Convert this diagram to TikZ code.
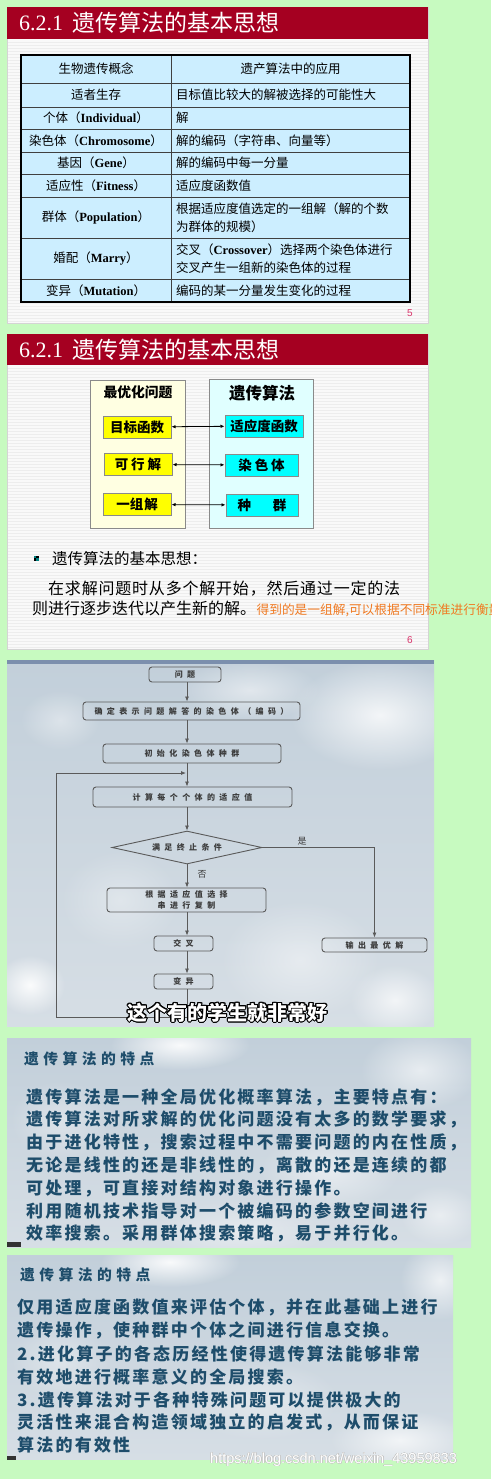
\documentclass[tikz,border=0pt]{standalone}
\usepackage{fontspec}
\usepackage{tikz}
\usepackage{contour}
\usetikzlibrary{arrows.meta,positioning,shapes.geometric,fadings}
\setmainfont{Liberation Serif}
\setsansfont{Liberation Sans}
\newfontfamily\cjk{Noto Sans CJK SC}
\newfontfamily\cjkbody[LetterSpace=5]{Noto Sans CJK SC}
\newfontfamily\flowfont[LetterSpace=55]{Noto Sans CJK SC}
\newfontfamily\calli[LetterSpace=13]{Noto Sans CJK SC}
\newfontfamily\callihead[LetterSpace=30]{Noto Sans CJK SC}
\definecolor{pagegreen}{HTML}{C7FAC0}
\definecolor{titlered}{HTML}{A50021}
\definecolor{slidewhite}{HTML}{F9F9F9}
\definecolor{stripe}{HTML}{EDEDED}
\definecolor{slideedge}{HTML}{D4D4D4}
\definecolor{cellblue}{HTML}{CCEEFF}
\definecolor{paleyellow}{HTML}{FFFFE2}
\definecolor{palecyan}{HTML}{E0FFFF}
\definecolor{boxyellow}{HTML}{FFFF00}
\definecolor{boxcyan}{HTML}{00FFFF}
\definecolor{boxedge}{HTML}{8A8A8A}
\definecolor{pagenum}{HTML}{D9336A}
\definecolor{noteorange}{HTML}{F07A22}
\definecolor{mistblue}{HTML}{C2CFDA}
\definecolor{mistlow}{HTML}{D6DEE5}
\definecolor{stripblue}{HTML}{7B8FAD}
\definecolor{flowgray}{HTML}{5A5A5A}
\definecolor{flowtext}{HTML}{3C3C3C}
\definecolor{inkteal}{HTML}{1E4D6B}
\newcommand{\latn}[1]{{\rmfamily\bfseries #1}}
\tikzfading[name=puff, inner color=transparent!0, outer color=transparent!100]

\begin{document}
\begin{tikzpicture}[x=1pt,y=-1pt,
  stripeline/.style={draw=stripe,line width=0.6pt},
  cell/.style={inner sep=0pt,font=\cjk\fontsize{12.5}{18}\selectfont},
  cellr/.style={cell,anchor=west,align=left},
  rowline/.style={draw=black!75,line width=0.8pt},
  pnum/.style={inner sep=0pt,text=pagenum,font=\sffamily\fontsize{10}{10}\selectfont},
  slidetitle/.style={anchor=west,inner sep=0pt,text=white},
  optbox/.style={draw=boxedge,line width=1pt,fill=boxyellow,minimum width=68pt,minimum height=22pt,inner sep=0pt,font=\cjk\bfseries\fontsize{13.5}{14}\selectfont},
  gabox/.style={optbox,fill=boxcyan},
  link/.style={{Latex[length=4pt,width=3.5pt]}-{Latex[length=4pt,width=3.5pt]},line width=0.8pt},
  fbox/.style={draw=flowgray,line width=0.9pt,rounded corners=3pt,inner sep=0pt,text=flowtext,font=\flowfont\bfseries\fontsize{8}{11}\selectfont,align=center},
  flow/.style={-{Latex[length=5pt,width=4pt]},draw=flowgray,line width=0.8pt},
  flowlbl/.style={inner sep=0pt,text=flowtext,font=\cjk\fontsize{9}{9}\selectfont},
  note/.style={anchor=west,inner sep=0pt,text=inkteal,font=\calli\bfseries\fontsize{17}{17}\selectfont},
  notehead/.style={note,font=\callihead\bfseries\fontsize{14.8}{15}\selectfont}]

  \useasboundingbox (0,0) rectangle (491,1479);
  \fill[pagegreen] (0,0) rectangle (491,1479);

  % slide 5 -- table of concepts
  \fill[slidewhite] (7,7) rectangle (428,323);
  \foreach \yy in {42,45,...,322} { \draw[stripeline] (7,\yy) -- (428,\yy); }
  \draw[slideedge] (7,7) rectangle (428,323);
  \fill[titlered] (7,7) rectangle (428,39);
  \node[slidetitle,font=\rmfamily\fontsize{22}{22}\selectfont] (numA) at (19,23) {6.2.1};
  \node[slidetitle,font=\cjk\fontsize{23}{23}\selectfont] (headA) at (72,23) {遗传算法的基本思想};

  \fill[cellblue] (21,55) rectangle (410,302);
  \foreach \yr in {83,107,129,152,174,197,238,279} { \draw[rowline] (21,\yr) -- (410,\yr); }
  \draw[rowline] (171,55) -- (171,302);
  \draw[black,line width=1.4pt] (21,55) rectangle (410,302);
  \node[cell] (colA) at (96,69) {生物遗传概念};
  \node[cell] (colB) at (290.5,69) {遗产算法中的应用};
  \foreach \yc/\lt/\rt [count=\i] in {
      95/{适者生存}/{目标值比较大的解被选择的可能性大},
      118/{个体（\latn{Individual}）}/{解},
      140.5/{染色体（\latn{Chromosome}）}/{解的编码（字符串、向量等）},
      163/{基因（\latn{Gene}）}/{解的编码中每一分量},
      185.5/{适应性（\latn{Fitness}）}/{适应度函数值},
      217.5/{群体（\latn{Population}）}/{根据适应度值选定的一组解（解的个数\\为群体的规模）},
      258.5/{婚配（\latn{Marry}）}/{交叉（\latn{Crossover}）选择两个染色体进行\\交叉产生一组新的染色体的过程},
      290.5/{变异（\latn{Mutation}）}/{编码的某一分量发生变化的过程}}
    { \node[cell] (bio\i) at (96,\yc) {\lt};
      \node[cellr] (use\i) at (176,\yc) {\rt}; }
  \node[pnum] (pgA) at (410,313) {5};

  % slide 6 -- mapping of terms
  \fill[slidewhite] (7,334) rectangle (428,649);
  \foreach \yy in {368,371,...,648} { \draw[stripeline] (7,\yy) -- (428,\yy); }
  \draw[slideedge] (7,334) rectangle (428,649);
  \fill[titlered] (7,334) rectangle (428,365);
  \node[slidetitle,font=\rmfamily\fontsize{22}{22}\selectfont] (numB) at (19,350) {6.2.1};
  \node[slidetitle,font=\cjk\fontsize{23}{23}\selectfont] (headB) at (72,350) {遗传算法的基本思想};

  \draw[boxedge,fill=paleyellow] (90,380) rectangle (185,528);
  \draw[boxedge,fill=palecyan] (209,379) rectangle (313,528);
  \node[inner sep=0pt,font=\cjk\bfseries\fontsize{13.8}{14}\selectfont] (optT) at (138,392) {最优化问题};
  \node[inner sep=0pt,font=\cjk\bfseries\fontsize{16.5}{17}\selectfont] (gaT) at (262,393) {遗传算法};
  \node[optbox] (obj) at (137,427) {目标函数};
  \node[optbox] (feas) at (138,464.5) {可\hspace{3pt}行\hspace{3pt}解};
  \node[optbox] (set) at (137,504.5) {一组\hspace{1pt}解};
  \node[gabox,minimum width=78pt] (fitf) at (264,426) {适应度函数};
  \node[gabox,minimum width=73pt] (chrom) at (261.5,465) {染\hspace{3pt}色\hspace{3pt}体};
  \node[gabox,minimum width=72pt] (pop) at (262,505) {种\hspace{22pt}群};
  \draw[link] (obj) -- (fitf);
  \draw[link] (feas) -- (chrom);
  \draw[link] (set) -- (pop);

  \fill[black] (33.5,555.5) rectangle (38.5,560.5);
  \fill[teal] (33.5,555.5) rectangle (36,558);
  \fill[teal] (36,558) rectangle (38.5,560.5);
  \node[anchor=west,inner sep=0pt,font=\cjk\fontsize{15.5}{16}\selectfont] (idea) at (52,559) {遗传算法的基本思想：};
  \node[anchor=west,inner sep=0pt,font=\cjkbody\fontsize{16}{16}\selectfont] (ideaA) at (48,589) {在求解问题时从多个解开始，然后通过一定的法};
  \node[anchor=west,inner sep=0pt,font=\cjk\fontsize{16}{16}\selectfont] (ideaB) at (32,608) {则进行逐步迭代以产生新的解。};
  \begin{scope}
    \clip (0,595) rectangle (491,620);
    \node[anchor=base west,inner sep=0pt,text=noteorange,font=\cjk\fontsize{12.7}{13}\selectfont] (remark) at (ideaB.base east) {得到的是一组解,可以根据不同标准进行衡量};
  \end{scope}
  \node[pnum] (pgB) at (410,640) {6};

  % flowchart slide
  \begin{scope}
    \clip (7,660) rectangle (434,1026);
    \shade[top color=mistblue,bottom color=mistlow] (7,660) rectangle (434,1026);
    \foreach \cx/\cy/\rx/\ry/\op in {380/715/90/55/0.8, 250/690/70/30/0.5, 30/985/35/30/0.9,
        395/1000/45/35/0.7, 120/900/60/50/0.35, 300/960/80/60/0.45, 60/720/40/30/0.4}
      { \fill[white,path fading=puff,fill opacity=\op] (\cx,\cy) ellipse [x radius=\rx,y radius=\ry]; }
    \fill[stripblue] (7,660) rectangle (434,664);
  \end{scope}
  \coordinate (axis) at (187,0);
  \node[fbox,minimum width=72pt,minimum height=15pt] (prob) at (185,674.5) {问题};
  \node[fbox,minimum width=217pt,minimum height=18pt] (enc) at (191.5,711) {确定表示问题解答的染色体（编码）};
  \node[fbox,minimum width=178pt,minimum height=19pt] (init) at (192,753.5) {初始化染色体种群};
  \node[fbox,minimum width=199pt,minimum height=20pt] (fit) at (192.5,797) {计算每个个体的适应值};
  \node[diamond,aspect=4.5,draw=flowgray,line width=0.9pt,minimum width=150pt,minimum height=33pt,inner sep=0pt,
        text=flowtext,font=\flowfont\bfseries\fontsize{8}{8}\selectfont] (stop) at (187,847.5) {满足终止条件};
  \node[fbox,minimum width=159pt,minimum height=24pt] (sel) at (186.5,900) {根据适应值选择\\串进行复制};
  \node[fbox,minimum width=59pt,minimum height=15pt] (cross) at (183.5,943.5) {交叉};
  \node[fbox,minimum width=59pt,minimum height=15pt] (mut) at (183.5,981.5) {变异};
  \node[fbox,minimum width=105pt,minimum height=14pt] (best) at (374.5,945) {输出最优解};
  \coordinate (loopbot) at (56,1017);
  \coordinate (looptop) at (56,773);
  \coordinate (join) at (186,773);

  \draw[flow] (prob.south -| axis) -- (enc.north -| axis);
  \draw[flow] (enc.south -| axis) -- (init.north -| axis);
  \draw[flow] (init.south -| axis) -- (fit.north -| axis);
  \draw[flow] (fit.south -| axis) -- (stop.north);
  \draw[flow] (stop.south) -- (sel.north -| axis);
  \draw[flow] (sel.south -| axis) -- (cross.north -| axis);
  \draw[flow] (cross.south -| axis) -- (mut.north -| axis);
  \draw[flow] (stop.east) -| (best.north);
  \draw[flow] (mut.south -| axis) |- (loopbot) -- (looptop) -- (join);
  \node[flowlbl] (yes) at (302,841) {是};
  \node[flowlbl] (no) at (202,874) {否};
  \node[inner sep=0pt,text=white,font=\cjk\bfseries\fontsize{20}{20}\selectfont] (caption) at (227.5,1013)
    {\contourlength{1.1pt}\contour{black}{这个有的学生就非常好}};

  % features, part one
  \begin{scope}
    \clip (7,1038) rectangle (471,1247);
    \shade[top color=mistblue,bottom color=mistlow] (7,1038) rectangle (471,1247);
    \foreach \cx/\cy/\rx/\ry/\op in {180/1045/70/25/0.9, 420/1070/60/40/0.6, 330/1170/70/40/0.5,
        60/1120/50/40/0.35, 240/1230/90/30/0.4, 440/1215/40/30/0.5}
      { \fill[white,path fading=puff,fill opacity=\op] (\cx,\cy) ellipse [x radius=\rx,y radius=\ry]; }
  \end{scope}
  \fill[black!80] (7,1242) rectangle (21,1247);
  \node[notehead] (featA) at (24,1059) {遗传算法的特点};
  \foreach \yl/\txt [count=\i] in {
      1097/{遗传算法是一种全局优化概率算法，主要特点有：},
      1119/{遗传算法对所求解的优化问题没有太多的数学要求，},
      1142/{由于进化特性，搜索过程中不需要问题的内在性质，},
      1165/{无论是线性的还是非线性的，离散的还是连续的都},
      1188/{可处理，可直接对结构对象进行操作。},
      1211/{利用随机技术指导对一个被编码的参数空间进行},
      1233/{效率搜索。采用群体搜索策略，易于并行化。}}
    { \node[note] (lineA\i) at (26,\yl) {\txt}; }

  % features, part two
  \begin{scope}
    \clip (7,1255) rectangle (453,1459);
    \shade[top color=mistblue,bottom color=mistlow] (7,1255) rectangle (453,1459);
    \foreach \cx/\cy/\rx/\ry/\op in {170/1262/70/25/0.9, 440/1280/40/40/0.7, 400/1440/70/30/0.7,
        60/1360/50/40/0.35, 260/1400/80/40/0.4}
      { \fill[white,path fading=puff,fill opacity=\op] (\cx,\cy) ellipse [x radius=\rx,y radius=\ry]; }
  \end{scope}
  \fill[black!80] (7,1456) rectangle (16,1460);
  \node[notehead] (featB) at (20,1275) {遗传算法的特点};
  \foreach \yl/\txt [count=\i] in {
      1307/{仅用适应度函数值来评估个体，并在此基础上进行},
      1330/{遗传操作，使种群中个体之间进行信息交换。},
      1354/{2.进化算子的各态历经性使得遗传算法能够非常},
      1377/{有效地进行概率意义的全局搜索。},
      1400/{3.遗传算法对于各种特殊问题可以提供极大的},
      1422/{灵活性来混合构造领域独立的启发式，从而保证},
      1445/{算法的有效性}}
    { \node[note] (lineB\i) at (17,\yl) {\txt}; }
  \node[anchor=west,inner sep=0pt,text=white,font=\sffamily\fontsize{14.5}{15}\selectfont] (mark) at (210,1460)
    {\contourlength{0.4pt}\contour{gray!45}{https://blog.csdn.net/weixin\_43959833}};
\end{tikzpicture}
\end{document}
